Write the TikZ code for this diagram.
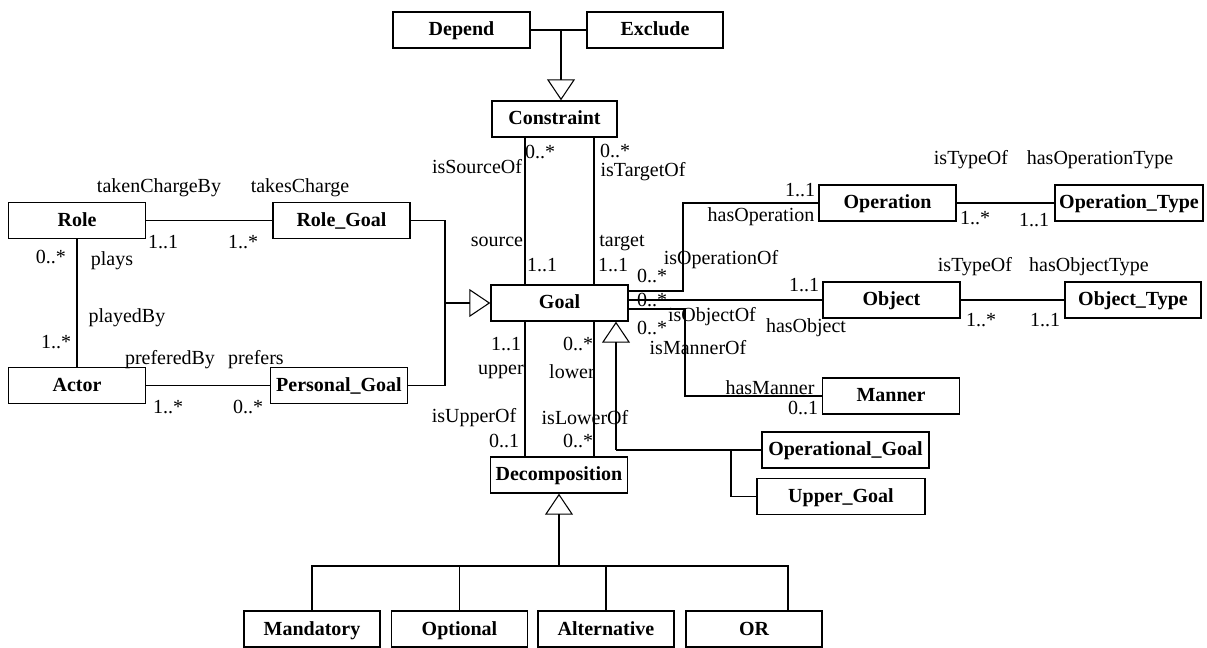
\documentclass[tikz,border=0pt]{standalone}
\usepackage{fontspec}
\setmainfont{Liberation Serif}
\usetikzlibrary{arrows.meta}

\tikzset{
  cls/.style={draw, line width=1.1pt, font=\fontsize{15}{18}\selectfont\bfseries,
    minimum width=102.75pt, minimum height=27pt, inner sep=0pt,
    text height=10.5pt, text depth=1.5pt},
  lab/.style={inner sep=0pt, font=\fontsize{15}{18}\selectfont},
  gen/.style={-{Triangle[open, length=15.75pt, width=21pt]}},
}

\begin{document}
\begin{tikzpicture}[x=0.75pt, y=-0.75pt, line width=0.8pt]
\useasboundingbox (0,0) rectangle (1207,648);

% Classes
\node[cls] (depend) at (461.5,30) {Depend};
\node[cls, minimum width=102pt] (exclude) at (655,30) {Exclude};
\node[cls, minimum width=93.75pt] (constraint) at (554.5,119) {Constraint};
\node[cls] (role) at (77,220.5) {Role};
\node[cls] (rolegoal) at (341.5,220.5) {Role\_Goal};
\node[cls] (actor) at (77,385.5) {Actor};
\node[cls] (persgoal) at (339,385.5) {Personal\_Goal};
\node[cls] (goal) at (559.5,303) {Goal};
\node[cls] (operation) at (887.5,203) {Operation};
\node[cls, minimum width=111pt] (optype) at (1129,203) {Operation\_Type};
\node[cls] (object) at (891.5,300) {Object};
\node[cls, minimum width=102pt] (objtype) at (1133,300) {Object\_Type};
\node[cls] (manner) at (891,396) {Manner};
\node[cls, minimum width=125.25pt] (opgoal) at (845.5,450) {Operational\_Goal};
\node[cls, minimum width=126pt] (uppergoal) at (841,496.5) {Upper\_Goal};
\node[cls] (decomp) at (559,475) {Decomposition};
\foreach \n/\x/\t in {mandatory/312/Mandatory, optional/459.5/Optional,
    alternative/606/Alternative, orbox/754/OR} {
    \node[cls, minimum width=102pt] (\n) at (\x,629) {\t};
}

% Junctions
\coordinate (cj) at (561,30);
\coordinate (gj) at (445,303);
\coordinate (srcx) at (525,0);
\coordinate (tgtx) at (594,0);
\coordinate (opj) at (683,291);
\coordinate (mnj) at (685,309);
\coordinate (sj) at (616,450);
\coordinate (uj) at (731,450);
\coordinate (dj) at (559,566);
\coordinate (oj) at (788,566);

% Generalizations
\draw (depend.east) -- (exclude.west);
\draw[gen] (cj) -- (cj |- constraint.north);
\draw (rolegoal.east) -| (gj);
\draw (persgoal.east) -| (gj);
\draw[gen] (gj) -- (goal.west);
\draw[gen] (sj) -- (sj |- goal.south);
\draw (sj) -- (opgoal.west);
\draw (uj) |- (uppergoal.west);
\draw[gen] (dj) -- (decomp.south);
\draw (mandatory.north) |- (oj) -- (oj |- orbox.north);
\foreach \n in {optional,alternative} {
    \draw (\n.north) -- (\n.north |- dj);
}

% Associations
\draw (role.east) -- (rolegoal.west);
\draw (role.south) -- (actor.north);
\draw (actor.east) -- (persgoal.west);
\draw (constraint.south -| srcx) -- (goal.north -| srcx);
\draw (constraint.south -| tgtx) -- (goal.north -| tgtx);
\draw (goal.south -| srcx) -- (decomp.north -| srcx);
\draw (goal.south -| tgtx) -- (decomp.north -| tgtx);
\draw (opj -| goal.east) -- (opj) |- (operation.west);
\draw (goal.east |- object.west) -- (object.west);
\draw (mnj -| goal.east) -- (mnj) |- (manner.west);
\draw (operation.east) -- (optype.west);
\draw (object.east) -- (objtype.west);

% Role labels
\node[lab] (l1) at (159,188) {takenChargeBy};
\node[lab] (l2) at (300,188) {takesCharge};
\node[lab] (l3) at (163,242) {1..1};
\node[lab] (l4) at (243,242) {1..*};
\node[lab] (l5) at (51,257) {0..*};
\node[lab] (l6) at (112,261) {plays};
\node[lab] (l7) at (127,318) {playedBy};
\node[lab] (l8) at (56,342) {1..*};
\node[lab] (l9) at (170,360) {preferedBy};
\node[lab] (l10) at (256,360) {prefers};
\node[lab] (l11) at (168,407) {1..*};
\node[lab] (l12) at (248,407) {0..*};

% Constraint labels
\node[lab] (c1) at (540,152) {0..*};
\node[lab] (c2) at (477,167) {isSourceOf};
\node[lab] (c3) at (615,151) {0..*};
\node[lab] (c4) at (643,172) {isTargetOf};
\node[lab] (c5) at (497,242) {source};
\node[lab] (c6) at (622,243) {target};
\node[lab] (c7) at (542,265) {1..1};
\node[lab] (c8) at (613,265) {1..1};

% Decomposition labels
\node[lab] (d1) at (506,344) {1..1};
\node[lab] (d2) at (578,344) {0..*};
\node[lab] (d3) at (501,372) {upper};
\node[lab] (d4) at (572,372) {lower};
\node[lab] (d5) at (474,418) {isUpperOf};
\node[lab] (d6) at (585,418) {isLowerOf};
\node[lab] (d7) at (504,441) {0..1};
\node[lab] (d8) at (578,441) {0..*};

% Operation, object, manner labels
\node[lab] (o1) at (721,260) {isOperationOf};
\node[lab] (o2) at (652,276) {0..*};
\node[lab] (o3) at (800,190) {1..1};
\node[lab] (o4) at (761,217) {hasOperation};
\node[lab] (o5) at (975,218) {1..*};
\node[lab] (o6) at (1034,220) {1..1};
\node[lab] (o7) at (971,160) {isTypeOf};
\node[lab] (o8) at (1100,160) {hasOperationType};
\node[lab] (b1) at (652,300) {0..*};
\node[lab] (b2) at (712,317) {isObjectOf};
\node[lab] (b3) at (804,285) {1..1};
\node[lab] (b4) at (806,328) {hasObject};
\node[lab] (b5) at (981,320) {1..*};
\node[lab] (b6) at (1045,320) {1..1};
\node[lab] (b7) at (975,267) {isTypeOf};
\node[lab] (b8) at (1089,267) {hasObjectType};
\node[lab] (m1) at (652,328) {0..*};
\node[lab] (m2) at (698,348) {isMannerOf};
\node[lab] (m3) at (770,388) {hasManner};
\node[lab] (m4) at (803,408) {0..1};
\end{tikzpicture}
\end{document}
